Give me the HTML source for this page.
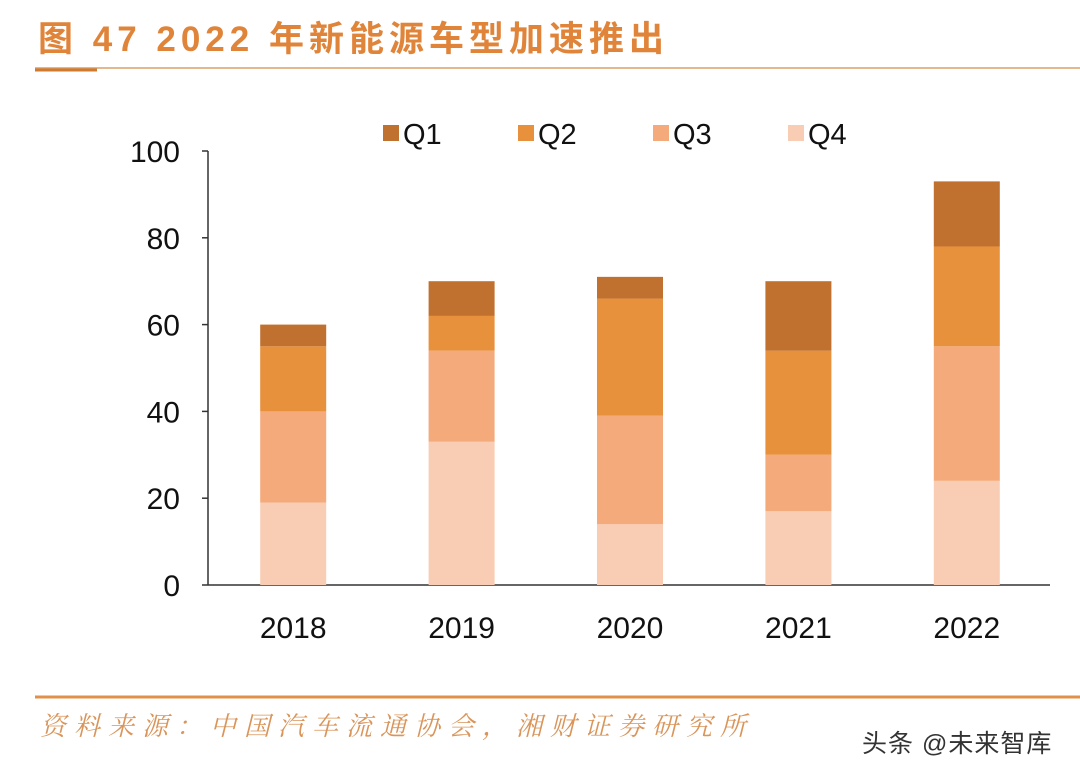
<!DOCTYPE html>
<html><head><meta charset="utf-8"><style>
body{margin:0;width:1080px;height:777px;background:#fff;overflow:hidden;font-family:"Liberation Sans","Noto Sans CJK SC",sans-serif;}
</style></head><body>
<svg width="1080" height="777">
<text x="38" y="51" font-size="35" font-weight="bold" letter-spacing="5" fill="#e0843a" font-family="Liberation Sans, Noto Sans CJK SC, sans-serif">图 47 2022 年新能源车型加速推出</text>
<line x1="35" y1="68" x2="1080" y2="68" stroke="#d9a06a" stroke-width="1.5"/>
<line x1="35" y1="70" x2="97" y2="70" stroke="#d07a30" stroke-width="3"/>
<g id="legend"></g>
<g id="axes"></g>
<g id="bars"></g>
<line x1="35" y1="697" x2="1080" y2="697" stroke="#e0904a" stroke-width="3"/>
<text x="40" y="735" font-size="26" font-style="italic" letter-spacing="8" fill="#d9955a" font-family="Liberation Serif, Noto Serif CJK SC, serif">资料来源：中国汽车流通协会，湘财证券研究所</text>
<text x="862" y="752" font-size="25" letter-spacing="1" fill="#333" font-family="Liberation Sans, Noto Sans CJK SC, sans-serif">头条 @未来智库</text>
</svg>
<script>
const categories=["2018","2019","2020","2021","2022"];
const seriesNames=["Q1","Q2","Q3","Q4"];
const q4=[19,33,14,17,24];
const q3=[21,21,25,13,31];
const q2=[15,8,27,24,23];
const q1=[5,8,5,16,15];
const yTicks=[0,20,40,60,80,100];
const colors={Q1:"#c0712f",Q2:"#e8913c",Q3:"#f4aa7a",Q4:"#f9cdb4"};
const NS="http://www.w3.org/2000/svg";
const y0=585,y100=151,xL=208,xR=1050;
const ys=v=>y0-(v/100)*(y0-y100);
const band=(xR-xL)/categories.length;
const xs=i=>xL+band*i+band/2+1;
function mk(t,a,p){const e=document.createElementNS(NS,t);for(const k in a)e.setAttribute(k,a[k]);p.appendChild(e);return e;}
const ax=document.getElementById('axes');
let l=mk('line',{x1:xL,y1:y100,x2:xL,y2:y0,stroke:'#333','stroke-width':1.5},ax);


l=mk('line',{x1:xL,y1:y0,x2:xR,y2:y0,stroke:'#333','stroke-width':1.5},ax);


yTicks.forEach(v=>{
 const t=mk('line',{x1:xL-6,y1:ys(v),x2:xL,y2:ys(v),stroke:'#333','stroke-width':1.5},ax);
 
 
 const tx=mk('text',{x:180,y:ys(v)+11,'font-size':30,'text-anchor':'end',fill:'#111'},ax);
 tx.textContent=v;
 
 
});
const bg=document.getElementById('bars');
const stack=[["Q4",q4],["Q3",q3],["Q2",q2],["Q1",q1]];
categories.forEach((c,i)=>{
 let base=0;
 stack.forEach(([n,arr])=>{
  const v=arr[i];
  const r=mk('rect',{x:xs(i)-33,y:ys(base+v),width:66,height:ys(base)-ys(base+v),fill:colors[n]},bg);
  
  
  base+=v;
 });
 const tx=mk('text',{x:xs(i),y:638,'font-size':30,'text-anchor':'middle',fill:'#111'},ax);
 tx.textContent=c;
 
 
});
const lg=document.getElementById('legend');
seriesNames.forEach((n,i)=>{
 const x=383+i*135;
 const r=mk('rect',{x:x,y:125,width:16,height:16,fill:colors[n]},lg);
 
 
 const t=mk('text',{x:x+20,y:144,'font-size':29,fill:'#111'},lg);
 t.textContent=n;
 
 
});
</script>
</body></html>
